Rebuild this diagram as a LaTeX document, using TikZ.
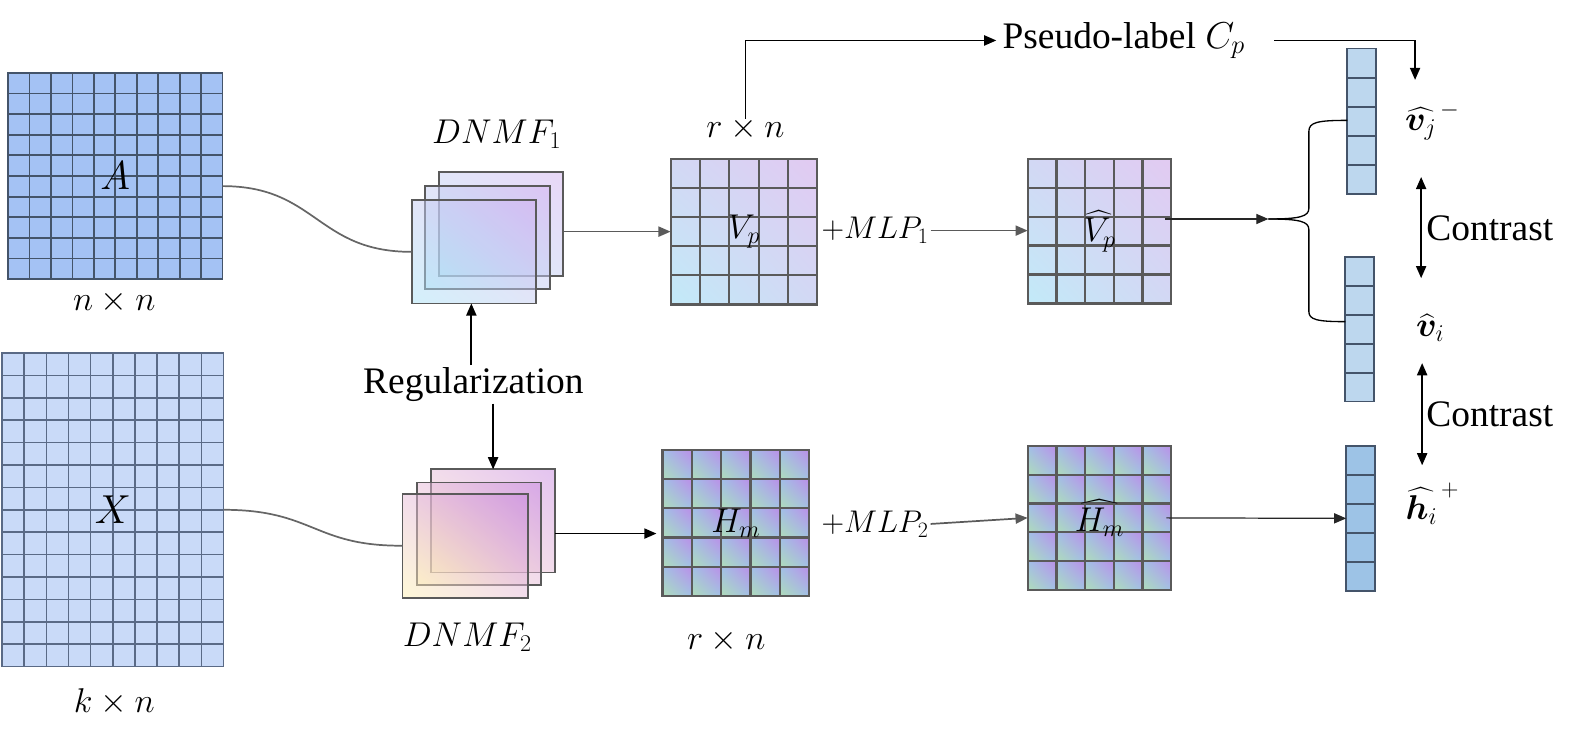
\RequirePackage{fix-cm}
\documentclass[tikz,border=0pt]{standalone}
\usepackage{amsmath}
\usepackage{fontspec}
\setmainfont{Liberation Serif}
\usepackage{bm}
\usetikzlibrary{arrows.meta,fit,calc,shadings}
\definecolor{cA}{HTML}{A4C2F4}
\definecolor{cX}{HTML}{C9DAF8}
\definecolor{slate}{HTML}{44546A}
\definecolor{slate2}{HTML}{5A6A86}
\definecolor{gline}{HTML}{5A5A5A}
\definecolor{vecA}{HTML}{BDD7EE}
\definecolor{vecB}{HTML}{9DC3E6}
\definecolor{vll}{HTML}{C2EAF8}
\definecolor{vur}{HTML}{E2CAF2}
\definecolor{vmid}{HTML}{D2D8F4}
\definecolor{hg}{HTML}{B0DCB8}
\definecolor{hb}{HTML}{A0C0E8}
\definecolor{hp}{HTML}{BC8EE8}
\definecolor{dcy}{HTML}{A8E2F6}
\definecolor{dpu}{HTML}{D2B0F0}
\definecolor{dmid}{HTML}{C4CCF2}
\definecolor{dye}{HTML}{FFF2B0}
\definecolor{dpp}{HTML}{C888E0}
\definecolor{dpk}{HTML}{E6BAD8}
\newcommand\gridmat[7]{%
  \pgfmathsetmacro\gw{(#3-#1)/#5}%
  \pgfmathsetmacro\gh{(#4-#2)/#6}%
  \pgfmathtruncatemacro\gc{#5-1}%
  \pgfmathtruncatemacro\gr{#6-1}%
  \ifnum\gc>0 \foreach \k in {1,...,\gc}{\draw[#7] ({#1+\k*\gw},#2) -- ({#1+\k*\gw},#4);}\fi
  \ifnum\gr>0 \foreach \k in {1,...,\gr}{\draw[#7] (#1,{#2+\k*\gh}) -- (#3,{#2+\k*\gh});}\fi
  \draw[#7] (#1,#2) rectangle (#3,#4);%
}
\newcommand\cellshade[7]{%
  \pgfmathsetmacro\gw{(#3-#1)/#5}%
  \pgfmathsetmacro\gh{(#4-#2)/#6}%
  \pgfmathtruncatemacro\gc{#5-1}%
  \pgfmathtruncatemacro\gr{#6-1}%
  \foreach \i in {0,...,\gc}{\foreach \j in {0,...,\gr}{%
    \shade[#7] ({#1+\i*\gw},{#2+\j*\gh}) rectangle ({#1+(\i+1)*\gw},{#2+(\j+1)*\gh});}}%
}
\tikzset{
  box/.style={inner sep=0pt, outer sep=0pt},
  tip/.style={-{Triangle[length=12pt,width=10pt]}},
  conn/.style={line width=1.7pt, draw=black, tip},
  gconn/.style={line width=1.7pt, draw=gline, -{Triangle[length=12pt,width=10pt,fill=gline]}},
  thin/.style={line width=1.2pt, draw=black!85, tip},
  dconn/.style={line width=1.7pt, {Triangle[length=12pt,width=10pt]}-{Triangle[length=12pt,width=10pt]}},
  curve/.style={line width=1.7pt, draw=black!60},
  txt/.style={font=\fontsize{37}{42}\selectfont, inner sep=2pt},
  mth/.style={font=\fontsize{34}{40}\selectfont, inner sep=2pt},
  mlp/.style={font=\fontsize{31}{36}\selectfont, inner sep=2pt},
  big/.style={font=\fontsize{40}{46}\selectfont, inner sep=2pt},
  alines/.style={draw=slate, line width=1.8pt},
  xlines/.style={draw=slate2, line width=1.6pt},
  mlines/.style={draw=gline, line width=2.2pt},
  veclines/.style={draw=slate, line width=1.8pt},
  stackline/.style={draw=gline, line width=1.8pt},
  hcell/.style={lower left=hg, upper right=hp, upper left=hb, lower right=hb},
  vshade/.style={lower left=vll, upper right=vur, upper left=vmid, lower right=vmid},
  d1shade/.style={lower left=dcy, upper right=dpu, upper left=dmid, lower right=dmid, fill opacity=0.5},
  d2shade/.style={lower left=dye, upper right=dpp, upper left=dpk, lower right=dpk, fill opacity=0.5},
}
\begin{document}
\begin{tikzpicture}[x=1pt,y=-1pt]
\useasboundingbox (0,0) rectangle (1568,728);

% ---- input matrices
\fill[cA] (8,72) rectangle (220,276);
\gridmat{8}{72}{220}{276}{10}{10}{alines}
\node[box, fit={(8,72) (220,276)}] (A) {};
\node[big] (Alab) at (A.center) {$A$};
\node[mth] (nn) at (113,298) {$n\times n$};

\fill[cX] (2,349) rectangle (221,659);
\gridmat{2}{349}{221}{659}{10}{14}{xlines}
\node[box, fit={(2,349) (221,659)}] (X) {};
\node[big] (Xlab) at (X.center) {$X$};
\node[mth] (kn) at (113,694) {$k\times n$};

% ---- DNMF1 stack
\shade[d1shade] (434,170) rectangle (557,273);
\draw[stackline] (434,170) rectangle (557,273);
\node[box, fit={(434,170) (557,273)}] (d1b) {};
\shade[d1shade] (420,184) rectangle (544,286);
\draw[stackline] (420,184) rectangle (544,286);
\node[box, fit={(420,184) (544,286)}] (d1m) {};
\shade[d1shade] (407,198) rectangle (530,300);
\draw[stackline] (407,198) rectangle (530,300);
\node[box, fit={(407,198) (530,300)}] (d1f) {};
\node[mth] (dn1) at (491,133) {$DNMF_1$};

% ---- DNMF2 stack
\shade[d2shade] (426,464) rectangle (549,566);
\draw[stackline] (426,464) rectangle (549,566);
\node[box, fit={(426,464) (549,566)}] (d2b) {};
\shade[d2shade] (412,477) rectangle (535,578);
\draw[stackline] (412,477) rectangle (535,578);
\node[box, fit={(412,477) (535,578)}] (d2m) {};
\shade[d2shade] (398,488) rectangle (522,591);
\draw[stackline] (398,488) rectangle (522,591);
\node[box, fit={(398,488) (522,591)}] (d2f) {};
\node[mth] (dn2) at (462,630) {$DNMF_2$};

\node[txt] (reg) at (468,380) {Regularization};

% ---- factor matrices
\shade[vshade] (663,157) rectangle (808,301);
\gridmat{663}{157}{808}{301}{5}{5}{mlines}
\node[box, fit={(663,157) (808,301)}] (Vp) {};
\node[mth] (Vplab) at (Vp.center) {$V_p$};
\node[mth] (rn1) at (737,127) {$r\times n$};

\cellshade{655}{445}{800}{589}{5}{5}{hcell}
\gridmat{655}{445}{800}{589}{5}{5}{mlines}
\node[box, fit={(655,445) (800,589)}] (Hm) {};
\node[mth] (Hmlab) at (Hm.center) {$H_m$};
\node[mth] (rn2) at (718,634) {$r\times n$};

\node[mlp] (mlp1) at (865,228) {$+MLP_1$};
\node[mlp] (mlp2) at (865,518) {$+MLP_2$};

\shade[vshade] (1016,157) rectangle (1158,300);
\gridmat{1016}{157}{1158}{300}{5}{5}{mlines}
\node[box, fit={(1016,157) (1158,300)}] (Vh) {};
\node[mth] (Vhlab) at (Vh.center) {$\widehat{V_p}$};

\cellshade{1016}{441}{1158}{583}{5}{5}{hcell}
\gridmat{1016}{441}{1158}{583}{5}{5}{mlines}
\node[box, fit={(1016,441) (1158,583)}] (Hh) {};
\node[mth] (Hhlab) at (Hh.center) {$\widehat{H_m}$};

% ---- vectors
\fill[vecA] (1332,48) rectangle (1360,192);
\gridmat{1332}{48}{1360}{192}{1}{5}{veclines}
\node[box, fit={(1332,48) (1360,192)}] (Tv) {};
\fill[vecA] (1330,254) rectangle (1358,397);
\gridmat{1330}{254}{1358}{397}{1}{5}{veclines}
\node[box, fit={(1330,254) (1358,397)}] (Mv) {};
\fill[vecB] (1331,441) rectangle (1359,584);
\gridmat{1331}{441}{1359}{584}{1}{5}{veclines}
\node[box, fit={(1331,441) (1359,584)}] (Bv) {};

\node[mth] (vj) at (1416,120) {$\widehat{\bm{v}_j}^{\,-}$};
\node[mth] (vi) at (1414,324) {$\widehat{\bm{v}}_i$};
\node[mth] (hi) at (1416,498) {$\widehat{\bm{h}_i}^{\,+}$};

\node[txt, anchor=west] (ct1) at (1408,226) {Contrast};
\node[txt, anchor=west] (ct2) at (1408,410) {Contrast};
\coordinate (c1t) at (1405,175);
\coordinate (c1b) at (1405,275);
\coordinate (c2t) at (1406,359);
\coordinate (c2b) at (1406,460);
\draw[dconn] (c1t) -- (c1b);
\draw[dconn] (c2t) -- (c2b);

% ---- pseudo label
\node[txt, anchor=west, inner sep=3pt] (PL) at (988,40) {Pseudo-label $C_p$};
\coordinate (vjtop) at (1399,79);

% ---- connectors
\draw[curve] ([yshift=-10pt]A.east) .. controls (313,184) and (313,249) .. (d1f.west);
\draw[curve] (X.east) .. controls (310,504) and (310,540) .. (d2f.west);
\draw[conn] (reg.north -| 466,0) -- (466,300);
\draw[conn] (reg.south -| d2b.north) -- (d2b.north);
\draw[gconn] (d1b.east |- Vp.west) -- (Vp.west);
\draw[conn, shorten >=6pt] (d2b.east |- d2m.east) -- (Hm.west |- d2m.east);
\draw[gconn] (mlp1.east) -- (Vh.west |- mlp1.east);
\draw[gconn] (mlp2.east) -- (Hh.west);
\draw[conn, shorten >=3pt] ([yshift=-4pt]rn1.north) |- (PL.west);
\draw[conn, shorten <=26pt] (PL.east) -| (vjtop);
\coordinate (brtip) at (1254,216.5);
\draw[thin] ([xshift=-6pt,yshift=12pt]Vh.east) -- (brtip);
\draw[line width=1.3pt] (brtip) .. controls (1285,216.5) and (1294,214) .. (1294,206)
   -- (1294,130) .. controls (1294,121) and (1302,119) .. (Tv.west |- 0,119);
\draw[line width=1.3pt] (brtip) .. controls (1285,216.5) and (1294,219) .. (1294,227)
   -- (1294,308) .. controls (1294,316) and (1302,318) .. (Mv.west |- 0,318);
\draw[thin] ([xshift=-5pt]Hh.east) -- (Bv.west);
\end{tikzpicture}
\end{document}
